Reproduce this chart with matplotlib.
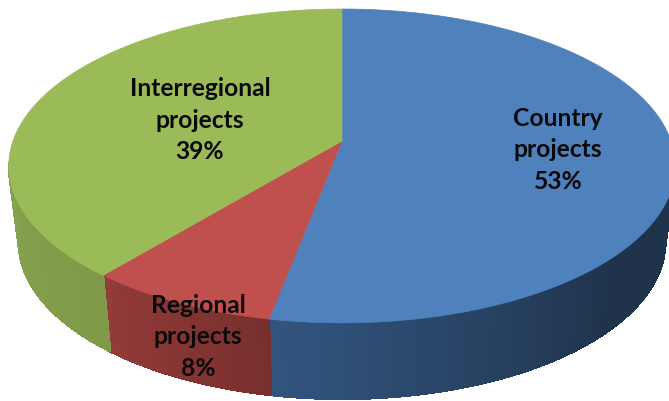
import numpy as np
import matplotlib
matplotlib.use('Agg')
import matplotlib.pyplot as plt
from matplotlib.collections import PolyCollection

categories = ['Country\nprojects', 'Regional\nprojects', 'Interregional\nprojects']
values = [53, 8, 39]
top_colors = ['#4F81BD', '#C0504D', '#9BBB59']
# wall shade at the left and right end of each slice
wall_left = ['#32557F', '#933B39', '#87A24E']
wall_right = ['#1F334B', '#772F2D', '#7F9948']
label_pos = [(558, 150), (198, 337), (200, 120)]

# perspective of the pie disc, in pixels
cx, cy = 342, 142
rx, ry = 329, 130.4
k = 0.159
depth = 76
squeeze = 0.97


def project(theta):
    # theta is clockwise from the top of the disc
    u = np.sin(theta)
    v = np.cos(theta)
    w = 1 + k * v
    return cx + rx * u / w, (cy - ry * v) / w


def project_bottom(theta):
    x, y = project(theta)
    return cx + (x - cx) * squeeze, y + depth


def main():
    fig = plt.figure(figsize=(6.69, 4.02), dpi=100)
    ax = fig.add_axes([0, 0, 1, 1])
    ax.set_xlim(0, 669)
    ax.set_ylim(402, 0)
    ax.axis('off')

    edges = np.deg2rad(np.concatenate([[0], np.cumsum(values)]) / sum(values) * 360)
    wall_start = np.deg2rad(98)
    wall_end = np.deg2rad(262)

    for i in range(len(values)):
        a0, a1 = edges[i], edges[i + 1]
        left = np.array(matplotlib.colors.to_rgb(wall_left[i]))
        right = np.array(matplotlib.colors.to_rgb(wall_right[i]))

        # side wall, thin strips for the shading
        b0, b1 = max(a0, wall_start), min(a1, wall_end)
        if b1 > b0:
            t = np.linspace(b0, b1, 200)
            xt, yt = project(t)
            xb, yb = project_bottom(t)
            polys = []
            cols = []
            for j in range(len(t) - 1):
                polys.append([(xt[j], yt[j]), (xt[j + 1], yt[j + 1]),
                              (xb[j + 1], yb[j + 1]), (xb[j], yb[j])])
                # angle runs right to left along the front
                f = 1 - (j + 0.5) / (len(t) - 1)
                if i == 0:
                    f = min(f * 1.6, 1)
                cols.append(left * (1 - f) + right * f)
            ax.add_collection(PolyCollection(polys, facecolors=cols, edgecolors=cols,
                                             linewidths=1.0, antialiaseds=False, zorder=1))

        # top face
        t = np.linspace(a0, a1, 200)
        x, y = project(t)
        ax.fill(np.r_[cx, x], np.r_[cy, y], facecolor=top_colors[i],
                edgecolor=top_colors[i], lw=0.5, zorder=2)

    for name, val, pos in zip(categories, values, label_pos):
        ax.text(pos[0], pos[1], '%s\n%d%%' % (name, val), ha='center', va='center',
                family='Lato', weight='bold', fontsize=17.7, linespacing=1.47,
                color='#0a0a0a', zorder=3)

    fig.savefig('out.png', dpi=100)


if __name__ == "__main__":
    main()
